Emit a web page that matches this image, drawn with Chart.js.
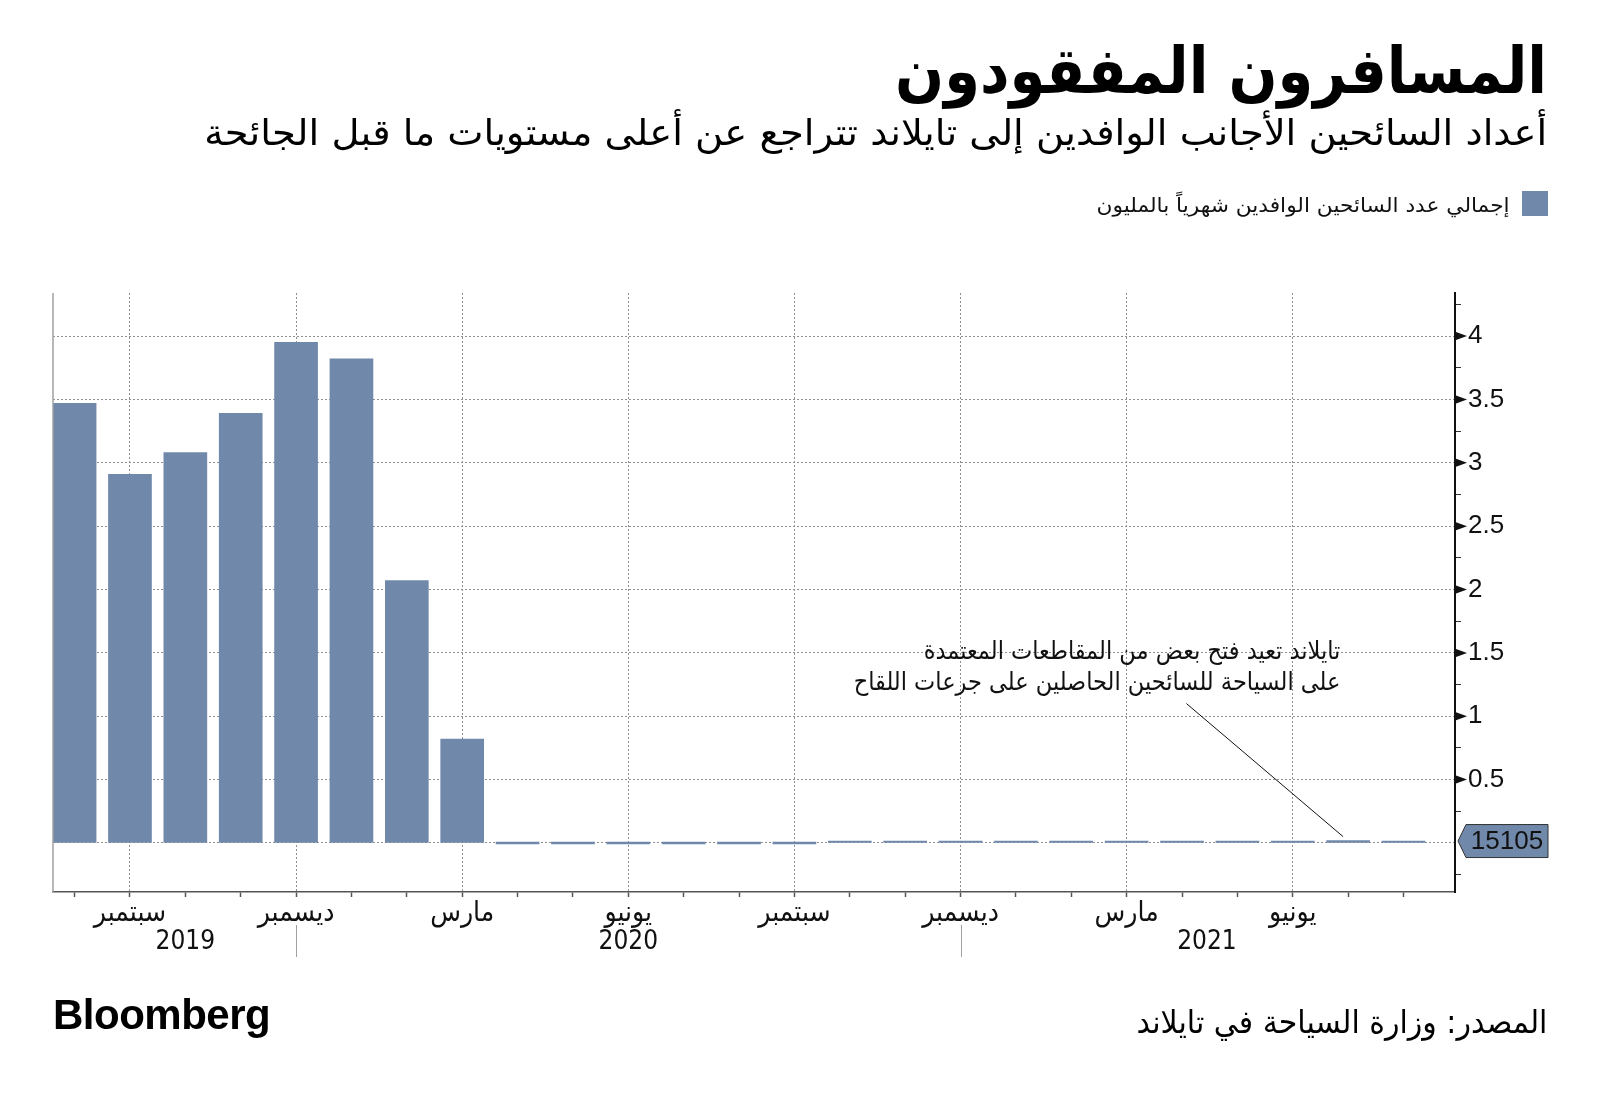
<!DOCTYPE html>
<html lang="ar">
<head>
<meta charset="utf-8">
<title>المسافرون المفقودون</title>
<script src="https://cdn.jsdelivr.net/npm/chart.js@4.4.0/dist/chart.umd.min.js"></script>
<style>
  html, body { margin: 0; padding: 0; background: #fff; }
  #page { position: relative; width: 1600px; height: 1097px; overflow: hidden; }
  #chart { position: absolute; left: 0; top: 0; }
  .txt { position: absolute; right: 53px; white-space: nowrap; direction: rtl; color: #000;
         font-family: 'DejaVu Sans Condensed', 'DejaVu Sans', sans-serif; transform-origin: right center; }
  #title { top: 35px; font-size: 64px; line-height: 72px; font-weight: bold; }
  #subtitle { top: 113px; font-size: 36px; line-height: 40px; }
  #legendTxt { right: 90px; top: 192px; font-size: 20px; line-height: 26px; color: #111; }
  #legendBox { position: absolute; left: 1522px; top: 191px; width: 26px; height: 25px; background: #7088aa; }
  #source { top: 1004px; font-size: 32px; line-height: 36px; }
  #logo { position: absolute; left: 53px; top: 994px; font-family: 'Liberation Sans', Arial, sans-serif;
          font-weight: bold; font-size: 42px; line-height: 42px; letter-spacing: -0.5px; color: #000; }
</style>
</head>
<body>
<div id="page">
  <canvas id="chart" width="1600" height="1097"></canvas>
  <div class="txt fit" id="title" data-w="652">المسافرون المفقودون</div>
  <div class="txt fit" id="subtitle" data-w="1343">أعداد السائحين الأجانب الوافدين إلى تايلاند تتراجع عن أعلى مستويات ما قبل الجائحة</div>
  <div id="legendBox"></div>
  <div class="txt fit" id="legendTxt" data-w="413">إجمالي عدد السائحين الوافدين شهرياً بالمليون</div>
  <div class="txt fit" id="source" data-w="411">المصدر: وزارة السياحة في تايلاند</div>
  <div id="logo">Bloomberg</div>
</div>
<script>
// data
var months = ['أغسطس', 'سبتمبر', 'أكتوبر', 'نوفمبر', 'ديسمبر', 'يناير', 'فبراير', 'مارس', 'أبريل', 'مايو', 'يونيو', 'يوليو',
              'أغسطس', 'سبتمبر', 'أكتوبر', 'نوفمبر', 'ديسمبر', 'يناير', 'فبراير', 'مارس', 'أبريل', 'مايو', 'يونيو', 'يوليو', 'أغسطس'];
var arrivals = [3.47, 2.91, 3.08, 3.39, 3.95, 3.82, 2.07, 0.82, 0, 0, 0, 0, 0, 0,
                0.0012, 0.0017, 0.0066, 0.0101, 0.0066, 0.0066, 0.0081, 0.0077, 0.0054, 0.0181, 0.0151];
var years = ['2019', '2020', '2021'];
var yearPos = [2, 10, 20.45];
var yearBreaks = [4, 16];
var yTickLabels = [0.5, 1, 1.5, 2, 2.5, 3, 3.5, 4];
var lastLabel = '15105';
var note = ['تايلاند تعيد فتح بعض من المقاطعات المعتمدة', 'على السياحة للسائحين الحاصلين على جرعات اللقاح'];
var noteAt = { x: 22.86, y1: 1.5, y2: 1.255, lineX: 20.08, lineY: 1.1, target: 23 };

var barCol = '#7088aa';
var gridCol = '#8f8f8f';
var none = 'rgba(0,0,0,0)';
var condensed = "'DejaVu Sans Condensed', 'DejaVu Sans', sans-serif";

function isMajorY(v) { return Math.abs(v * 2 - Math.round(v * 2)) < 1e-6; }
function isMajorX(v) { return v % 3 === 1; }

// extra bits drawn on top: left rule, arrows, flag, years, note
var extras = {
  id: 'extras',
  afterDraw: function(chart) {
    var ctx = chart.ctx, a = chart.chartArea;
    var xs = chart.scales.x, ys = chart.scales.y;
    ctx.save();

    // left grey rule
    ctx.strokeStyle = '#a0a0a0';
    ctx.lineWidth = 1.5;
    ctx.beginPath();
    ctx.moveTo(a.left, a.top);
    ctx.lineTo(a.left, a.bottom);
    ctx.stroke();

    // arrow ticks on the value axis
    ctx.fillStyle = '#111';
    yTickLabels.forEach(function(v) {
      var py = ys.getPixelForValue(v);
      ctx.beginPath();
      ctx.moveTo(a.right + 1, py - 4);
      ctx.lineTo(a.right + 12, py);
      ctx.lineTo(a.right + 1, py + 4);
      ctx.closePath();
      ctx.fill();
    });

    // flag with the last value
    var fy = ys.getPixelForValue(arrivals[arrivals.length - 1]);
    ctx.beginPath();
    ctx.moveTo(a.right + 3, fy);
    ctx.lineTo(a.right + 11, fy - 16.5);
    ctx.lineTo(a.right + 93, fy - 16.5);
    ctx.lineTo(a.right + 93, fy + 16.5);
    ctx.lineTo(a.right + 11, fy + 16.5);
    ctx.closePath();
    ctx.fillStyle = barCol;
    ctx.fill();
    ctx.strokeStyle = '#333';
    ctx.lineWidth = 1;
    ctx.stroke();
    ctx.fillStyle = '#111';
    ctx.font = "26px 'Liberation Sans', Arial, sans-serif";
    ctx.textAlign = 'center';
    ctx.textBaseline = 'middle';
    ctx.fillText(lastLabel, a.right + 52, fy + 1);

    // year separators and year labels
    ctx.strokeStyle = '#a0a0a0';
    ctx.lineWidth = 1;
    yearBreaks.forEach(function(v) {
      var px = Math.round(xs.getPixelForValue(v)) + 0.5;
      ctx.beginPath();
      ctx.moveTo(px, a.bottom + 33);
      ctx.lineTo(px, a.bottom + 65);
      ctx.stroke();
    });
    ctx.font = '26px ' + condensed;
    ctx.fillStyle = '#111';
    years.forEach(function(t, i) {
      ctx.fillText(t, xs.getPixelForValue(yearPos[i]), a.bottom + 50);
    });

    // note and leader line
    ctx.direction = 'rtl';
    ctx.textAlign = 'right';
    ctx.font = '22px ' + condensed;
    var w = ctx.measureText(note[1]).width;
    var fs = 22 * 487 / w;
    ctx.font = fs.toFixed(1) + 'px ' + condensed;
    ctx.fillStyle = '#111';
    ctx.fillText(note[0], xs.getPixelForValue(noteAt.x), ys.getPixelForValue(noteAt.y1));
    ctx.fillText(note[1], xs.getPixelForValue(noteAt.x), ys.getPixelForValue(noteAt.y2));
    ctx.strokeStyle = '#111';
    ctx.lineWidth = 1;
    ctx.beginPath();
    ctx.moveTo(xs.getPixelForValue(noteAt.lineX), ys.getPixelForValue(noteAt.lineY));
    ctx.lineTo(xs.getPixelForValue(noteAt.target) - 5, ys.getPixelForValue(arrivals[noteAt.target]) - 4);
    ctx.stroke();

    ctx.restore();
  }
};

new Chart(document.getElementById('chart'), {
  type: 'bar',
  data: {
    datasets: [{
      data: arrivals.map(function(v, i) { return { x: i, y: v }; }),
      backgroundColor: barCol,
      barThickness: 43,
      minBarLength: 2
    }]
  },
  options: {
    responsive: false,
    animation: false,
    devicePixelRatio: 1,
    layout: { padding: { left: 53, top: 293, right: 0, bottom: 0 } },
    plugins: { legend: { display: false }, tooltip: { enabled: false } },
    scales: {
      x: {
        type: 'linear',
        min: -0.39,
        max: 24.93,
        offset: false,
        afterFit: function(s) { s.height = 205; },
        ticks: {
          stepSize: 1,
          includeBounds: false,
          autoSkip: false,
          maxRotation: 0,
          padding: 0,
          color: '#111',
          font: { family: condensed, size: 28 },
          callback: function(v) { return isMajorX(v) ? months[v] : ''; }
        },
        grid: {
          offset: false,
          color: function(c) { return c.tick && isMajorX(c.tick.value) ? gridCol : none; },
          lineWidth: 1,
          tickLength: 5,
          tickColor: '#555',
          tickWidth: 1.5
        },
        border: { color: '#555', width: 1.5, dash: [2, 2] }
      },
      y: {
        position: 'right',
        min: -0.387,
        max: 4.34,
        afterFit: function(s) { s.width = 145; },
        ticks: {
          stepSize: 0.25,
          includeBounds: false,
          autoSkip: false,
          padding: 7,
          color: '#111',
          font: { family: "'Liberation Sans', Arial, sans-serif", size: 26 },
          callback: function(v) { return (v > 0 && isMajorY(v)) ? String(v) : ''; }
        },
        grid: {
          color: function(c) { return c.tick && isMajorY(c.tick.value) ? gridCol : none; },
          lineWidth: 1,
          tickLength: 6,
          tickColor: function(c) { return c.tick && isMajorY(c.tick.value) ? none : '#333'; },
          tickWidth: 1
        },
        border: { color: '#111', width: 2, dash: [2, 2] }
      }
    }
  },
  plugins: [extras]
});

// squeeze the header/footer texts to the widths in the original
document.querySelectorAll('.fit').forEach(function(el) {
  var w = el.getBoundingClientRect().width;
  var target = parseFloat(el.getAttribute('data-w'));
  el.style.transform = 'scaleX(' + (target / w).toFixed(4) + ')';
});
</script>
</body>
</html>
